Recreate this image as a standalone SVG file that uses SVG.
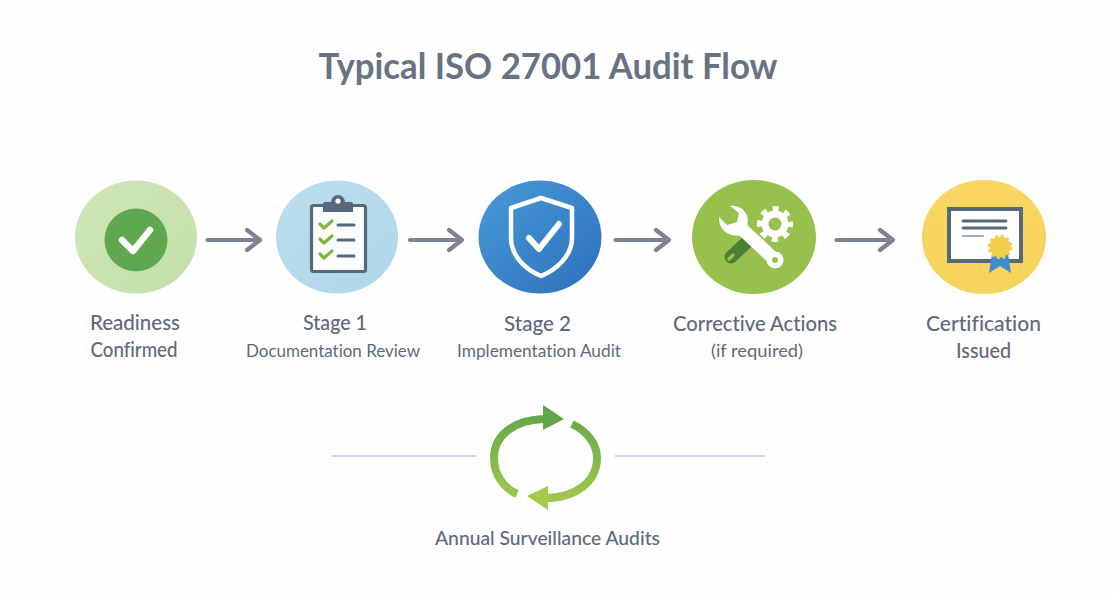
<svg xmlns="http://www.w3.org/2000/svg" width="1116" height="594" viewBox="0 0 1116 594">
<style>
text{font-family:Lato,"Noto Sans","Liberation Sans",sans-serif;text-anchor:middle;fill:#5d6a7c;font-variant-ligatures:none}
.t{font-size:37px;font-weight:700;fill:#677383}
.h{font-size:21px;font-weight:500}
.s{font-size:17.500px}
.arrow{fill:none;stroke:#7a8493;stroke-width:4.200;stroke-linecap:round;stroke-linejoin:round}
.rule{stroke:#bccbdd;stroke-width:1.600;fill:none}
.dk{fill:none;stroke:#57687a;stroke-linecap:round;stroke-linejoin:round}
.gc{fill:none;stroke:#7fb83f;stroke-width:3.200;stroke-linecap:round;stroke-linejoin:round}
.wc{fill:none;stroke:#fff;stroke-linecap:round;stroke-linejoin:round}
</style>
<defs>
<linearGradient id="g1" x1="0" y1="0" x2="1" y2="1"><stop offset="0" stop-color="#cfe6b8"/><stop offset="1" stop-color="#c2e0a8"/></linearGradient>
<linearGradient id="g2" x1="0" y1="0" x2="1" y2="1"><stop offset="0" stop-color="#bcdeed"/><stop offset="1" stop-color="#aed6ea"/></linearGradient>
<linearGradient id="g3" x1="0" y1="0" x2="1" y2="1"><stop offset="0" stop-color="#479ad8"/><stop offset="1" stop-color="#2f6fbb"/></linearGradient>
<linearGradient id="g5" x1="0" y1="0" x2="0" y2="1"><stop offset="0" stop-color="#f8d662"/><stop offset="1" stop-color="#f6d35a"/></linearGradient>
<linearGradient id="loopU" gradientUnits="userSpaceOnUse" x1="0" y1="405" x2="0" y2="510"><stop offset="0" stop-color="#5ea548"/><stop offset="1" stop-color="#a6cb4c"/></linearGradient>
</defs>
<rect width="1116" height="594" fill="#fefefe"/>
<text class="t" x="548" y="79" textLength="459" lengthAdjust="spacingAndGlyphs">Typical ISO 27001 Audit Flow</text>

<g id="connectors">
<path class="arrow" d="M207.500 240H259M247 230L260 240L247 250"/>
<path class="arrow" d="M410 240H462M449 230L462 240L449 250"/>
<path class="arrow" d="M615.500 240H669M656 230L669 240L656 250"/>
<path class="arrow" d="M836.500 240H893M880 230L893 240L880 250"/>
</g>

<g id="readiness">
<ellipse cx="136" cy="237" rx="61" ry="56.500" fill="url(#g1)"/>
<circle cx="136" cy="240" r="31.500" fill="#5fa84f"/>
<path class="wc" stroke-width="6.500" d="M122 240L133 251L150 230"/>
<text class="h" x="135" y="330" textLength="90" lengthAdjust="spacingAndGlyphs">Readiness</text>
<text class="h" x="134" y="357" textLength="87" lengthAdjust="spacingAndGlyphs">Confirmed</text>
</g>

<g id="stage1">
<ellipse cx="337" cy="237" rx="61" ry="56.500" fill="url(#g2)"/>
<rect x="311.500" y="205.500" width="54" height="66" rx="2" fill="#fbfdfd" stroke="#57687a" stroke-width="3.200"/>
<path d="M323 212V204a2 2 0 0 1 2-2h6a7 7 0 0 1 14 0h6a2 2 0 0 1 2 2v8z" fill="#57687a"/>
<circle cx="338" cy="201" r="2.600" fill="#fff"/>
<path class="gc" d="M320 224L324 228L332 221M320 239L324 243L332 236M320 254L324 258L332 251"/>
<path class="dk" stroke-width="3" d="M338 225H354M338 240H354M338 256H354"/>
<text class="h" x="335" y="330" textLength="64" lengthAdjust="spacingAndGlyphs">Stage 1</text>
<text class="s" x="333" y="356.500" textLength="174" lengthAdjust="spacingAndGlyphs">Documentation Review</text>
</g>

<g id="stage2">
<ellipse cx="540" cy="237" rx="61.500" ry="56.500" fill="url(#g3)"/>
<path d="M541 198L572 208V238C572 256 556 270 541 276C526 270 511 256 511 238V208Z" fill="none" stroke="#fff" stroke-width="4.500" stroke-linejoin="round"/>
<path class="wc" stroke-width="6" d="M529 238L539 249L559 224"/>
<text class="h" x="537.500" y="330.500" textLength="67" lengthAdjust="spacingAndGlyphs">Stage 2</text>
<text class="s" x="539" y="356.500" textLength="164" lengthAdjust="spacingAndGlyphs">Implementation Audit</text>
</g>

<g id="corrective">
<ellipse cx="754" cy="237" rx="62" ry="57" fill="#97c04c"/>
<path d="M746 243L731 257" stroke="#4a7f34" stroke-width="13" stroke-linecap="round" fill="none"/>
<path d="M729 259L733 255" stroke="#97c04c" stroke-width="3.500" stroke-linecap="round" fill="none"/>
<path d="M719 217L727 225L737 222L739 213L730 206C741 204 751 214 747 227L742 235C730 238 718 230 719 217Z" fill="#fff"/>
<path d="M742 229L775 260" stroke="#fff" stroke-width="13" fill="none"/>
<circle cx="775" cy="260" r="8.500" fill="#fff"/>
<circle cx="775" cy="260" r="3" fill="#97c04c"/>
<circle cx="775" cy="224" r="13.500" fill="#fff"/>
<circle cx="775" cy="224" r="15.500" fill="none" stroke="#fff" stroke-width="5" stroke-dasharray="6.200 6" stroke-dashoffset="3.100"/>
<circle cx="775" cy="224" r="6.500" fill="#97c04c"/>
<text class="h" x="755" y="330.500" textLength="164" lengthAdjust="spacingAndGlyphs">Corrective Actions</text>
<text class="s" x="757" y="356.500" textLength="92" lengthAdjust="spacingAndGlyphs">(if required)</text>
</g>

<g id="certification">
<ellipse cx="984" cy="237" rx="62" ry="57" fill="url(#g5)"/>
<rect x="949" y="209" width="72" height="52" fill="#fff" stroke="#57687a" stroke-width="4"/>
<path d="M963 221H1006M963 228H1006" stroke="#57687a" stroke-width="2.800" stroke-linecap="round" fill="none"/>
<path d="M963 236H983" stroke="#a3acb8" stroke-width="2" stroke-linecap="round" fill="none"/>
<path d="M992 254H1008L1011 273L1000 266L989 273Z" fill="#3a8fd0"/>
<circle cx="1000" cy="247" r="10.500" fill="#f3cc48"/>
<circle cx="1000" cy="247" r="11" fill="none" stroke="#f3cc48" stroke-width="2.500" stroke-dasharray="3 2.800"/>
<text class="h" x="983.500" y="330.500" textLength="115" lengthAdjust="spacingAndGlyphs">Certification</text>
<text class="h" x="983.500" y="357.500" textLength="55" lengthAdjust="spacingAndGlyphs">Issued</text>
</g>

<g id="surveillance">
<path class="rule" d="M332 456H476M615 456H765"/>
<path fill="none" stroke="url(#loopU)" stroke-width="8" d="M544 419C513 420 494 436 494 458C494 475 504 488 517 494"/>
<path fill="none" stroke="url(#loopU)" stroke-width="8" d="M572 424C587 431 597 444 597 458C597 482 575 498 546 498"/>
<path d="M543 405L564 419L543 430Z" fill="#5fa54a"/>
<path d="M527 496L548 486V510Z" fill="#a4ca4c"/>
<text class="h" x="547.500" y="545" style="font-size:19.500px" textLength="225" lengthAdjust="spacingAndGlyphs">Annual Surveillance Audits</text>
</g>
</svg>
